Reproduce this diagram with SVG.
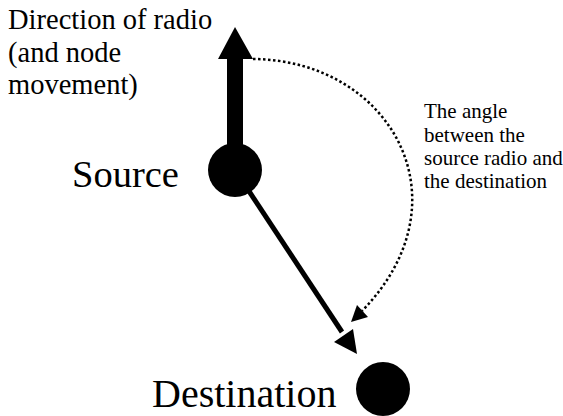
<svg xmlns="http://www.w3.org/2000/svg" width="563" height="416" viewBox="0 0 563 416" font-family="'Liberation Serif', 'Times New Roman', Times, serif">
<style>
text{fill:#000}
.src{font-size:38.5px}
.dst{font-size:40px}
.lbl{font-size:28.5px}
.sm{font-size:21px}
.node{fill:#000}
</style>
<rect width="563" height="416" fill="#fff"/>
<g id="connectors">
  <g id="radio-direction">
    <rect x="227" y="58" width="16" height="112" fill="#000"/>
    <polygon points="235,27 253,59 218,59" fill="#000"/>
  </g>
  <g id="source-to-destination">
    <line x1="235" y1="170" x2="342" y2="332" stroke="#000" stroke-width="5"/>
    <polygon points="357,354 334,342 353,329" fill="#000"/>
  </g>
  <g id="angle-arc">
    <path d="M253,59 C390,60 470,200 362,311" fill="none" stroke="#000" stroke-width="2.5" stroke-dasharray="2.5,2.5"/>
    <polygon points="351,322 357,305 368,317" fill="#000"/>
  </g>
</g>
<g id="source">
  <circle class="node" cx="235" cy="170" r="27"/>
  <text class="src" x="72" y="187">Source</text>
</g>
<g id="destination">
  <circle class="node" cx="383" cy="389" r="27"/>
  <text class="dst" x="152" y="407">Destination</text>
</g>
<g id="direction-label">
  <text class="lbl" x="8" y="29">Direction of radio</text>
  <text class="lbl" x="8" y="62">(and node</text>
  <text class="lbl" x="8" y="94">movement)</text>
</g>
<g id="angle-label">
  <text class="sm" x="424" y="118">The angle</text>
  <text class="sm" x="424" y="142">between the</text>
  <text class="sm" x="424" y="165">source radio and</text>
  <text class="sm" x="424" y="188">the destination</text>
</g>
</svg>
